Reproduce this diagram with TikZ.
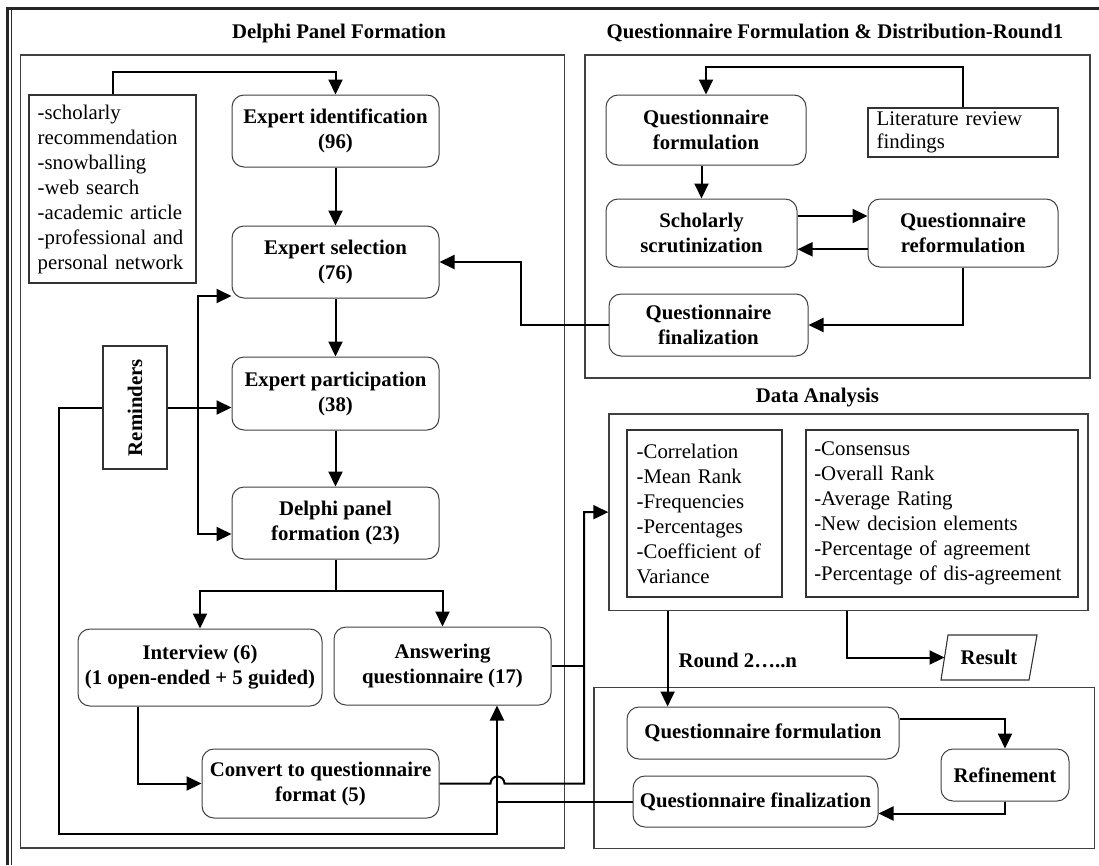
\documentclass[tikz,border=0pt]{standalone}
\usepackage{fontspec}
\setmainfont{Liberation Serif}
\usetikzlibrary{arrows.meta,calc}
\begin{document}
\begin{tikzpicture}[x=1pt,y=-1pt,
  txt/.style={font=\fontsize{20.8}{25}\selectfont},
  bold/.style={font=\fontsize{20.8}{25}\selectfont\bfseries},
  rbox/.style={bold, draw=black!75, line width=1pt, rounded corners=12pt, align=center, inner sep=0pt},
  sbox/.style={txt, draw=black!80, line width=1.1pt, align=left, inner ysep=0pt},
  panel/.style={draw=black!75, line width=1.4pt},
  conn/.style={line width=2pt, draw=black},
  arr/.style={conn, -{Triangle[length=15pt,width=14pt]}},
  bitip/.style={{Triangle[length=15pt,width=14pt]}-{Triangle[length=15pt,width=14pt]}}
]
\useasboundingbox (0,0) rectangle (1099,865);
\fill[white] (0,0) rectangle (1099,865);

% outer frame
\draw[line width=2.2pt, black!85] (7.5,865) -- (7.5,8.5) -- (1099,8.5);
\draw[line width=1.2pt, black!85] (11.5,865) -- (11.5,8.5);

% panels
\draw[panel] (20.7,55) rectangle (564.3,848);
\draw[panel] (585,55) rectangle (1090,378);
\node[panel, minimum width=479, minimum height=196.3, inner sep=0pt] (da) at (848.5,512.15) {};
\draw[panel] (594,687.3) rectangle (1094.3,848.3);

% titles
\node[bold, anchor=base] (t1) at (339,38) {Delphi Panel Formation};
\node[bold, anchor=base] (t2) at (835,38) {Questionnaire Formulation \& Distribution-Round1};
\node[bold, anchor=base] (t3) at (817.5,402) {Data Analysis};

% Delphi panel nodes
\node[rbox, minimum width=207, minimum height=72] (ident) at (335.5,131) {Expert identification\\(96)};
\node[rbox, minimum width=207, minimum height=72] (sel) at (335.5,262) {Expert selection\\(76)};
\node[rbox, minimum width=207, minimum height=73] (part) at (335.5,393.5) {Expert participation\\(38)};
\node[rbox, minimum width=207, minimum height=72] (dpf) at (335.5,523) {Delphi panel\\formation (23)};
\node[rbox, minimum width=244, minimum height=77] (intv) at (200,667.5) {Interview (6)\\(1 open-ended + 5 guided)};
\node[rbox, minimum width=217, minimum height=78] (ans) at (442.5,666) {Answering\\questionnaire (17)};
\node[rbox, minimum width=237, minimum height=69] (conv) at (320.5,783.5) {Convert to questionnaire\\format (5)};
\node[sbox, minimum width=167, minimum height=188, text width=149.6, inner xsep=8.7] (src) at (112.5,189) {-scholarly\\recommendation\\-snowballing\\-web search\\-academic article\\-professional and\\personal network};
\node[draw=black!80, line width=1.1pt, minimum width=64, minimum height=123, inner sep=0pt] (rem) at (135,407.5) {};
\node[bold, rotate=90] (remt) at (rem.center) {Reminders};

% Round 1 questionnaire nodes
\node[rbox, minimum width=200, minimum height=70] (qform) at (706,130) {Questionnaire\\formulation};
\node[sbox, minimum width=190, minimum height=49, text width=172.6, inner xsep=8.7, font=\fontsize{20.8}{23}\selectfont] (lit) at (963,132.5) {Literature review\\findings};
\node[rbox, minimum width=191, minimum height=68] (schol) at (701.5,233) {Scholarly\\scrutinization};
\node[rbox, minimum width=190, minimum height=68] (reform) at (963,233) {Questionnaire\\reformulation};
\node[rbox, minimum width=199, minimum height=62] (qfin) at (708.5,325) {Questionnaire\\finalization};

% Data analysis
\node[sbox, minimum width=155, minimum height=167, text width=135.6, inner xsep=9.7] (dal) at (704.5,513.5) {-Correlation\\-Mean Rank\\-Frequencies\\-Percentages\\-Coefficient of\\Variance};
\node[sbox, minimum width=272, minimum height=167, text width=255.4, inner xsep=8.3] (dar) at (942,513.5) {-Consensus\\-Overall Rank\\-Average Rating\\-New decision elements\\-Percentage of agreement\\-Percentage of dis-agreement};

\node[bold] (res) at (989,657.5) {Result};
\draw[draw=black!80, line width=1.1pt] (941,680) -- (948,635) -- (1037,635) -- (1029,680) -- cycle;
\coordinate (resin) at (944.5,657.5);

\node[bold, anchor=base west] (rlab) at (675,667) {Round 2…..n};

% Round 2 nodes
\node[rbox, minimum width=272, minimum height=52] (rq) at (763,733) {Questionnaire formulation};
\node[rbox, minimum width=128, minimum height=52] (ref) at (1005,775) {Refinement};
\node[rbox, minimum width=245, minimum height=51] (rfin) at (755.5,801.5) {Questionnaire finalization};

% connectors - Delphi
\draw[arr] (src.north) -- ++(0,-22) -| (ident.north);
\draw[arr] (ident.south) -- (sel.north);
\draw[arr] (sel.south) -- (part.north);
\draw[arr] (part.south) -- (dpf.north);
\draw[conn] (dpf.south) -- ++(0,31.7) coordinate (split);
\draw[arr] (split) -| (intv.north);
\draw[arr] (split) -| (ans.north);
\draw[arr] ($(intv.south west)+(60,0)$) |- (conv.west);
\coordinate (vtop) at (198,296);
\coordinate (vbot) at (198,534);
\draw[conn, bitip] (vtop -| sel.west) -- (vtop) -- (vbot) -- (vbot -| dpf.west);
\draw[arr] (rem.east) -- (rem.east -| part.west);
\coordinate (jx) at (497,834);
\draw[arr] (rem.west) -| (59,834) -- (jx) -- (jx |- ans.south);
\draw[conn] (rfin.west) -- (rfin.west -| jx);
\coordinate (cx) at (584,783.5);
\draw[conn] (ans.east) -- (ans.east -| cx);
\draw[arr] (conv.east) -- ++(51,0) arc[start angle=180, end angle=0, radius=7pt] -- (cx) |- (da.west);

% connectors - Round 1
\draw[arr] (lit.north) -- ++(0,-40) -| (qform.north);
\draw[arr] (schol.north |- qform.south) -- (schol.north);
\draw[arr] ($(schol.east)+(0,-17)$) -- ($(reform.west)+(0,-17)$);
\draw[arr] ($(reform.west)+(0,16.3)$) -- ($(schol.east)+(0,16.3)$);
\draw[arr] (reform.south) |- (qfin.east);
\draw[arr] (qfin.west) -- ++(-87.3,0) |- (sel.east);

% connectors - data analysis and round 2
\coordinate (dq) at ($(da.south west)+(59.3,0)$);
\draw[arr] (dq) -- (dq |- rq.north);
\coordinate (dr) at ($(da.south west)+(238.3,0)$);
\draw[arr] (dr) |- (resin);
\draw[arr] ($(rq.east)+(0,-13.7)$) -| (ref.north);
\draw[arr] (ref.south) |- ($(rfin.east)+(0,12)$);
\end{tikzpicture}
\end{document}
